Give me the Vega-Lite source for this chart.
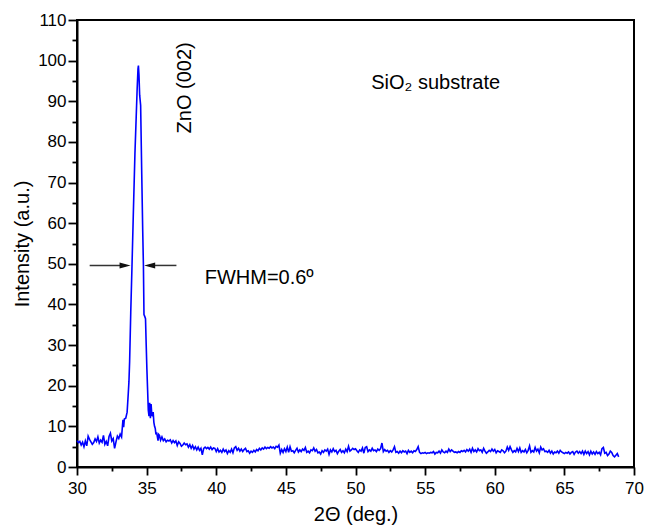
{
  "$schema": "https://vega.github.io/schema/vega-lite/v6.json",
  "width": 557,
  "height": 447,
  "autosize": "none",
  "padding": {"left": 77, "top": 20, "right": 19, "bottom": 60},
  "background": "white",
  "config": {
    "view": {"stroke": "#000000", "strokeWidth": 2, "strokeOpacity": 1},
    "font": "Liberation Sans",
    "axis": {"grid": false, "domainColor": "#000000", "domainWidth": 2, "tickColor": "#000000", "tickWidth": 1.8, "labelColor": "#000000", "titleColor": "#000000", "labelFont": "Liberation Sans", "titleFont": "Liberation Sans", "labelFontSize": 17, "titleFontSize": 20, "titleFontWeight": "normal", "labelFlush": false, "labelOverlap": false}
  },
  "datasets": {
    "xrd": [
      {"t":30.0,"i":6.5},{"t":30.1,"i":6.0},{"t":30.2,"i":6.3},{"t":30.3,"i":5.4},{"t":30.4,"i":6.1},{"t":30.5,"i":5.0},{"t":30.6,"i":6.4},{"t":30.7,"i":5.2},{"t":30.8,"i":7.6},{"t":30.9,"i":6.8},
      {"t":31.0,"i":6.2},{"t":31.1,"i":5.6},{"t":31.2,"i":6.0},{"t":31.3,"i":6.9},{"t":31.4,"i":6.3},{"t":31.5,"i":7.4},{"t":31.6,"i":5.9},{"t":31.7,"i":6.6},{"t":31.8,"i":6.1},{"t":31.9,"i":7.8},
      {"t":32.0,"i":5.6},{"t":32.1,"i":6.3},{"t":32.2,"i":5.2},{"t":32.3,"i":7.5},{"t":32.4,"i":8.3},{"t":32.5,"i":6.4},{"t":32.6,"i":7.0},{"t":32.7,"i":4.6},{"t":32.8,"i":6.2},{"t":32.9,"i":7.6},
      {"t":33.0,"i":7.0},{"t":33.1,"i":8.1},{"t":33.2,"i":7.4},{"t":33.3,"i":11.6},{"t":33.35,"i":9.8},{"t":33.4,"i":11.8},{"t":33.5,"i":12.0},{"t":33.6,"i":13.5},{"t":33.68,"i":18},{"t":33.73,"i":21},
      {"t":33.78,"i":26},{"t":33.86,"i":38},{"t":33.95,"i":49.5},{"t":34.05,"i":63},{"t":34.16,"i":77},{"t":34.25,"i":86},{"t":34.32,"i":93},{"t":34.38,"i":98},{"t":34.41,"i":98.8},{"t":34.45,"i":96.5},
      {"t":34.5,"i":91.5},{"t":34.57,"i":89},{"t":34.65,"i":72},{"t":34.72,"i":58},{"t":34.77,"i":49.5},{"t":34.81,"i":37.5},{"t":34.87,"i":37},{"t":34.92,"i":36.5},{"t":34.97,"i":30},{"t":35.02,"i":24},
      {"t":35.07,"i":19},{"t":35.12,"i":14},{"t":35.17,"i":12.5},{"t":35.22,"i":15.8},{"t":35.27,"i":12},{"t":35.32,"i":15.5},{"t":35.37,"i":13},{"t":35.42,"i":12.5},{"t":35.47,"i":13.5},{"t":35.52,"i":11},
      {"t":35.57,"i":10},{"t":35.62,"i":9.5},{"t":35.67,"i":8},{"t":35.72,"i":8.5},{"t":35.77,"i":7.5},{"t":35.82,"i":6.5},{"t":35.87,"i":8},{"t":35.92,"i":7.8},
      {"t":36.0,"i":6.6},{"t":36.1,"i":7.4},{"t":36.2,"i":6.5},{"t":36.3,"i":6.9},{"t":36.4,"i":6.2},{"t":36.5,"i":6.6},{"t":36.6,"i":6.4},{"t":36.7,"i":6.7},{"t":36.8,"i":5.9},{"t":36.9,"i":6.5},
      {"t":37.0,"i":6.0},{"t":37.1,"i":6.4},{"t":37.2,"i":5.3},{"t":37.3,"i":6.2},{"t":37.4,"i":5.8},{"t":37.5,"i":5.1},{"t":37.6,"i":5.4},{"t":37.7,"i":5.9},{"t":37.8,"i":5.5},{"t":37.9,"i":5.7},
      {"t":38.0,"i":4.9},{"t":38.1,"i":5.5},{"t":38.2,"i":4.6},{"t":38.3,"i":5.3},{"t":38.4,"i":4.4},{"t":38.5,"i":5.0},{"t":38.6,"i":4.2},{"t":38.7,"i":4.9},{"t":38.8,"i":4.1},{"t":38.9,"i":4.6},
      {"t":39.0,"i":3.0},{"t":39.1,"i":4.6},{"t":39.2,"i":4.9},{"t":39.3,"i":4.5},{"t":39.4,"i":4.8},{"t":39.5,"i":4.4},{"t":39.6,"i":4.9},{"t":39.7,"i":4.3},{"t":39.8,"i":4.7},{"t":39.9,"i":4.6},
      {"t":40.0,"i":3.8},{"t":40.1,"i":4.5},{"t":40.2,"i":3.7},{"t":40.3,"i":4.1},{"t":40.4,"i":3.6},{"t":40.5,"i":4.4},{"t":40.6,"i":3.8},{"t":40.7,"i":4.2},{"t":40.8,"i":3.3},{"t":40.9,"i":4.0},
      {"t":41.0,"i":3.6},{"t":41.1,"i":4.4},{"t":41.2,"i":3.5},{"t":41.3,"i":4.7},{"t":41.4,"i":5.0},{"t":41.5,"i":4.1},{"t":41.6,"i":4.6},{"t":41.7,"i":3.9},{"t":41.8,"i":4.4},{"t":41.9,"i":3.8},
      {"t":42.0,"i":4.3},{"t":42.1,"i":4.6},{"t":42.2,"i":3.8},{"t":42.3,"i":4.0},{"t":42.4,"i":3.4},{"t":42.5,"i":3.9},{"t":42.6,"i":3.6},{"t":42.7,"i":4.1},{"t":42.8,"i":3.7},{"t":42.9,"i":4.3},
      {"t":43.0,"i":4.0},{"t":43.1,"i":4.6},{"t":43.2,"i":4.2},{"t":43.3,"i":4.7},{"t":43.4,"i":4.4},{"t":43.5,"i":4.9},{"t":43.6,"i":4.5},{"t":43.7,"i":4.8},{"t":43.8,"i":4.6},{"t":43.9,"i":5.0},
      {"t":44.0,"i":4.7},{"t":44.1,"i":4.9},{"t":44.2,"i":4.5},{"t":44.3,"i":5.1},{"t":44.4,"i":4.9},{"t":44.5,"i":5.4},{"t":44.6,"i":3.4},{"t":44.7,"i":4.3},{"t":44.8,"i":3.6},{"t":44.9,"i":4.5},
      {"t":45.0,"i":3.8},{"t":45.1,"i":4.9},{"t":45.2,"i":3.6},{"t":45.3,"i":5.0},{"t":45.4,"i":3.9},{"t":45.5,"i":4.0},{"t":45.6,"i":3.5},{"t":45.7,"i":4.1},{"t":45.8,"i":4.6},{"t":45.9,"i":3.7},
      {"t":46.0,"i":4.2},{"t":46.1,"i":3.8},{"t":46.2,"i":4.4},{"t":46.3,"i":4.1},{"t":46.4,"i":4.8},{"t":46.5,"i":3.6},{"t":46.6,"i":3.9},{"t":46.7,"i":3.5},{"t":46.8,"i":4.2},{"t":46.9,"i":4.0},
      {"t":47.0,"i":4.7},{"t":47.1,"i":3.9},{"t":47.2,"i":4.3},{"t":47.3,"i":3.5},{"t":47.4,"i":3.7},{"t":47.5,"i":3.2},{"t":47.6,"i":4.0},{"t":47.7,"i":3.6},{"t":47.8,"i":4.2},{"t":47.9,"i":3.9},
      {"t":48.0,"i":4.4},{"t":48.1,"i":3.1},{"t":48.2,"i":4.2},{"t":48.3,"i":3.7},{"t":48.4,"i":4.5},{"t":48.5,"i":3.8},{"t":48.6,"i":4.1},{"t":48.7,"i":3.3},{"t":48.8,"i":3.9},{"t":48.9,"i":4.3},
      {"t":49.0,"i":3.6},{"t":49.1,"i":4.0},{"t":49.2,"i":3.5},{"t":49.3,"i":4.4},{"t":49.4,"i":3.8},{"t":49.5,"i":5.1},{"t":49.6,"i":3.9},{"t":49.7,"i":4.2},{"t":49.8,"i":4.6},{"t":49.9,"i":4.3},
      {"t":50.0,"i":4.5},{"t":50.1,"i":4.0},{"t":50.2,"i":3.6},{"t":50.3,"i":4.2},{"t":50.4,"i":3.9},{"t":50.5,"i":4.7},{"t":50.6,"i":3.4},{"t":50.7,"i":4.8},{"t":50.8,"i":5.0},{"t":50.9,"i":3.8},
      {"t":51.0,"i":4.2},{"t":51.1,"i":3.9},{"t":51.2,"i":4.6},{"t":51.3,"i":4.0},{"t":51.4,"i":4.2},{"t":51.5,"i":3.8},{"t":51.6,"i":4.4},{"t":51.7,"i":4.1},{"t":51.8,"i":4.5},{"t":51.9,"i":5.9},
      {"t":52.0,"i":3.8},{"t":52.1,"i":4.3},{"t":52.2,"i":3.9},{"t":52.3,"i":4.1},{"t":52.4,"i":3.6},{"t":52.5,"i":4.0},{"t":52.6,"i":3.7},{"t":52.7,"i":4.2},{"t":52.8,"i":5.0},{"t":52.9,"i":3.6},
      {"t":53.0,"i":3.8},{"t":53.1,"i":3.4},{"t":53.2,"i":3.9},{"t":53.3,"i":3.5},{"t":53.4,"i":4.0},{"t":53.5,"i":3.7},{"t":53.6,"i":3.9},{"t":53.7,"i":3.3},{"t":53.8,"i":4.1},{"t":53.9,"i":3.6},
      {"t":54.0,"i":3.9},{"t":54.1,"i":3.5},{"t":54.2,"i":4.0},{"t":54.3,"i":3.8},{"t":54.4,"i":4.3},{"t":54.5,"i":5.0},{"t":54.6,"i":3.6},{"t":54.7,"i":3.3},{"t":54.8,"i":3.5},{"t":54.9,"i":3.4},
      {"t":55.0,"i":3.6},{"t":55.1,"i":3.3},{"t":55.2,"i":3.5},{"t":55.3,"i":3.4},{"t":55.4,"i":3.6},{"t":55.5,"i":3.5},{"t":55.6,"i":3.8},{"t":55.7,"i":3.2},{"t":55.8,"i":3.6},{"t":55.9,"i":3.5},
      {"t":56.0,"i":3.9},{"t":56.1,"i":3.4},{"t":56.2,"i":4.2},{"t":56.3,"i":3.7},{"t":56.4,"i":3.5},{"t":56.5,"i":3.9},{"t":56.6,"i":3.6},{"t":56.7,"i":4.4},{"t":56.8,"i":3.8},{"t":56.9,"i":4.2},
      {"t":57.0,"i":3.9},{"t":57.1,"i":3.6},{"t":57.2,"i":3.7},{"t":57.3,"i":3.5},{"t":57.4,"i":3.8},{"t":57.5,"i":3.6},{"t":57.6,"i":4.0},{"t":57.7,"i":3.8},{"t":57.8,"i":4.1},{"t":57.9,"i":3.7},
      {"t":58.0,"i":4.3},{"t":58.1,"i":3.9},{"t":58.2,"i":4.4},{"t":58.3,"i":3.6},{"t":58.4,"i":4.6},{"t":58.5,"i":3.8},{"t":58.6,"i":4.2},{"t":58.7,"i":3.7},{"t":58.8,"i":4.5},{"t":58.9,"i":4.0},
      {"t":59.0,"i":4.2},{"t":59.1,"i":3.6},{"t":59.2,"i":4.6},{"t":59.3,"i":3.9},{"t":59.4,"i":3.4},{"t":59.5,"i":3.7},{"t":59.6,"i":4.1},{"t":59.7,"i":3.8},{"t":59.8,"i":4.4},{"t":59.9,"i":3.9},
      {"t":60.0,"i":4.3},{"t":60.1,"i":3.5},{"t":60.2,"i":4.0},{"t":60.3,"i":3.8},{"t":60.4,"i":3.6},{"t":60.5,"i":4.2},{"t":60.6,"i":4.0},{"t":60.7,"i":3.5},{"t":60.8,"i":3.9},{"t":60.9,"i":4.9},
      {"t":61.0,"i":4.1},{"t":61.1,"i":5.0},{"t":61.2,"i":4.2},{"t":61.3,"i":3.6},{"t":61.4,"i":4.0},{"t":61.5,"i":3.7},{"t":61.6,"i":4.6},{"t":61.7,"i":3.8},{"t":61.8,"i":4.7},{"t":61.9,"i":3.6},
      {"t":62.0,"i":4.0},{"t":62.1,"i":3.7},{"t":62.2,"i":4.3},{"t":62.3,"i":3.5},{"t":62.4,"i":4.1},{"t":62.5,"i":5.2},{"t":62.6,"i":3.6},{"t":62.7,"i":4.0},{"t":62.8,"i":3.7},{"t":62.9,"i":4.8},
      {"t":63.0,"i":3.9},{"t":63.1,"i":4.4},{"t":63.2,"i":3.5},{"t":63.3,"i":4.9},{"t":63.4,"i":4.2},{"t":63.5,"i":4.5},{"t":63.6,"i":3.8},{"t":63.7,"i":3.9},{"t":63.8,"i":3.6},{"t":63.9,"i":4.1},
      {"t":64.0,"i":3.4},{"t":64.1,"i":3.9},{"t":64.2,"i":3.2},{"t":64.3,"i":3.7},{"t":64.4,"i":3.5},{"t":64.5,"i":3.9},{"t":64.6,"i":3.4},{"t":64.7,"i":4.1},{"t":64.8,"i":3.7},{"t":64.9,"i":3.5},
      {"t":65.0,"i":3.3},{"t":65.1,"i":3.6},{"t":65.2,"i":3.4},{"t":65.3,"i":3.7},{"t":65.4,"i":3.2},{"t":65.5,"i":3.6},{"t":65.6,"i":3.8},{"t":65.7,"i":3.1},{"t":65.8,"i":3.7},{"t":65.9,"i":3.9},
      {"t":66.0,"i":3.4},{"t":66.1,"i":3.8},{"t":66.2,"i":3.3},{"t":66.3,"i":3.9},{"t":66.4,"i":3.1},{"t":66.5,"i":3.9},{"t":66.6,"i":3.3},{"t":66.7,"i":3.8},{"t":66.8,"i":3.0},{"t":66.9,"i":3.9},
      {"t":67.0,"i":3.2},{"t":67.1,"i":3.7},{"t":67.2,"i":3.1},{"t":67.3,"i":3.8},{"t":67.4,"i":3.3},{"t":67.5,"i":3.6},{"t":67.6,"i":3.0},{"t":67.7,"i":4.5},{"t":67.8,"i":4.8},{"t":67.9,"i":3.4},
      {"t":68.0,"i":3.6},{"t":68.1,"i":2.8},{"t":68.2,"i":3.2},{"t":68.3,"i":3.9},{"t":68.4,"i":3.6},{"t":68.5,"i":2.8},{"t":68.6,"i":2.5},{"t":68.7,"i":2.9},{"t":68.8,"i":3.3},{"t":68.9,"i":2.5}
    ],
    "arrows": [
      {"t": 30.91, "t2": 33.5, "i": 49.6},
      {"t": 35.2, "t2": 37.14, "i": 49.6}
    ],
    "heads": [
      {"t": 33.45, "i": 49.6, "dir": "r"},
      {"t": 35.22, "i": 49.6, "dir": "l"}
    ],
    "notes": [
      {"t": 38.21, "i": 93.3, "label": "ZnO (002)", "kind": "v"},
      {"t": 51.13, "i": 92.9, "label": "SiO₂ substrate", "kind": "h"},
      {"t": 39.17, "i": 45.1, "label": "FWHM=0.6º", "kind": "h"}
    ]
  },
  "encoding": {
    "x": {
      "field": "t", "type": "quantitative",
      "scale": {"domain": [30, 70], "nice": false, "zero": false},
      "axis": {
        "title": "2Θ (deg.)",
        "values": [30, 32.5, 35, 37.5, 40, 42.5, 45, 47.5, 50, 52.5, 55, 57.5, 60, 62.5, 65, 67.5, 70],
        "labelExpr": "datum.value % 5 === 0 ? datum.label : ''",
        "tickSize": {"condition": {"test": "datum.value % 5 === 0", "value": 8}, "value": 4},
        "labelPadding": 5,
        "titlePadding": 8
      }
    },
    "y": {
      "field": "i", "type": "quantitative",
      "scale": {"domain": [0, 110], "nice": false, "zero": true},
      "axis": {
        "title": "Intensity (a.u.)",
        "values": [0, 5, 10, 15, 20, 25, 30, 35, 40, 45, 50, 55, 60, 65, 70, 75, 80, 85, 90, 95, 100, 105, 110],
        "labelExpr": "datum.value % 10 === 0 ? datum.label : ''",
        "tickSize": {"condition": {"test": "datum.value % 10 === 0", "value": 9}, "value": 5},
        "labelPadding": 2,
        "titlePadding": 5
      }
    }
  },
  "layer": [
    {
      "data": {"name": "xrd"},
      "mark": {"type": "line", "color": "#0000ff", "strokeWidth": 1.6, "interpolate": "linear"}
    },
    {
      "data": {"name": "arrows"},
      "mark": {"type": "rule", "color": "#333333", "strokeWidth": 1.5},
      "encoding": {"x2": {"field": "t2"}}
    },
    {
      "data": {"name": "heads"},
      "mark": {"type": "point", "filled": true, "color": "#111111", "size": 121, "opacity": 1},
      "encoding": {
        "shape": {"field": "dir", "type": "nominal", "scale": {"domain": ["r", "l"], "range": ["M-1,-0.55L1,0L-1,0.55Z", "M1,-0.55L-1,0L1,0.55Z"]}, "legend": null}
      }
    },
    {
      "data": {"name": "notes"},
      "transform": [{"filter": "datum.kind === 'v'"}],
      "mark": {"type": "text", "angle": 270, "align": "center", "baseline": "alphabetic", "fontSize": 20, "font": "Liberation Sans", "color": "black"},
      "encoding": {"text": {"field": "label"}}
    },
    {
      "data": {"name": "notes"},
      "transform": [{"filter": "datum.kind === 'h'"}],
      "mark": {"type": "text", "align": "left", "baseline": "alphabetic", "fontSize": 20, "font": "Liberation Sans", "color": "black"},
      "encoding": {"text": {"field": "label"}}
    }
  ]
}
